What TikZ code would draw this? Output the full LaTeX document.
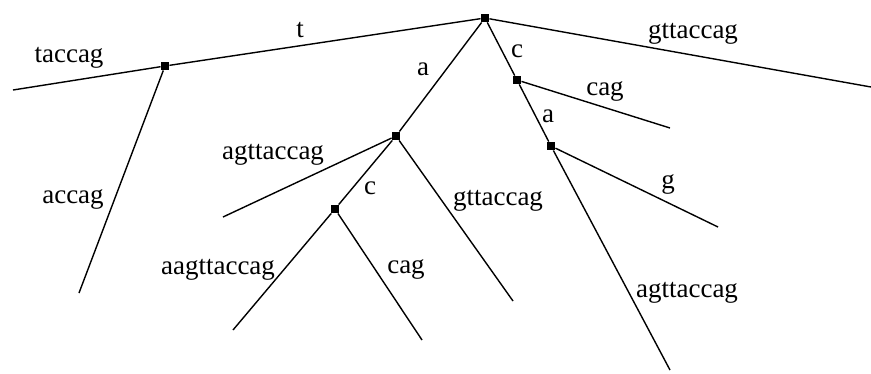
\documentclass[tikz,border=0pt]{standalone}
\usepackage{tikz}
\usepackage{fontspec}
\setmainfont{Liberation Serif}
\begin{document}
\begin{tikzpicture}[x=1pt, y=-1pt,
    junction/.style={rectangle, fill=black, inner sep=0pt, minimum size=8.5pt},
    branch/.style={-, line width=1.4pt, black},
    seq/.style={font=\fontsize{27}{27}\selectfont, inner sep=0pt, anchor=base}
]
\useasboundingbox (0,0) rectangle (871,373);

% Internal nodes
\node[junction] (root) at (485,18) {};
\node[junction] (nt) at (165,66) {};
\node[junction] (na) at (396,136) {};
\node[junction] (nac) at (335,209) {};
\node[junction] (nc) at (517,80) {};
\node[junction] (nca) at (551,146) {};

% Leaves
\coordinate (ltaccag) at (13,90);
\coordinate (laccag) at (79,293);
\coordinate (lgttaccag) at (871,87);
\coordinate (lagttaccag) at (223,217);
\coordinate (lgttaccagb) at (513,301);
\coordinate (laagttaccag) at (233,330);
\coordinate (lcag) at (422,340);
\coordinate (lcagb) at (670,128);
\coordinate (lg) at (718,227);
\coordinate (lagttaccagb) at (670,370);

% Branches
\foreach \a/\b in {root/nt, nt/ltaccag, nt/laccag, root/lgttaccag, root/na,
                   na/lagttaccag, na/nac, na/lgttaccagb, nac/laagttaccag, nac/lcag,
                   root/nc, nc/lcagb, nc/nca, nca/lg, nca/lagttaccagb}
    \draw[branch] (\a) -- (\b);

% Labels
\node[seq] (ttaccag) at (69,62) {taccag};
\node[seq] (tt) at (300,37) {t};
\node[seq] (tgttaccag) at (693,38) {gttaccag};
\node[seq] (taccag) at (73,203) {accag};
\node[seq] (ta) at (423,75) {a};
\node[seq] (tc) at (517,57) {c};
\node[seq] (tcagb) at (605,95) {cag};
\node[seq] (tab) at (548,122) {a};
\node[seq] (tagttaccag) at (273,159) {agttaccag};
\node[seq] (tcb) at (370,194) {c};
\node[seq] (tgttaccagb) at (498,205) {gttaccag};
\node[seq] (taagttaccag) at (218,274) {aagttaccag};
\node[seq] (tcag) at (406,273) {cag};
\node[seq] (tg) at (668,188) {g};
\node[seq] (tagttaccagb) at (687,297) {agttaccag};

\end{tikzpicture}
\end{document}
